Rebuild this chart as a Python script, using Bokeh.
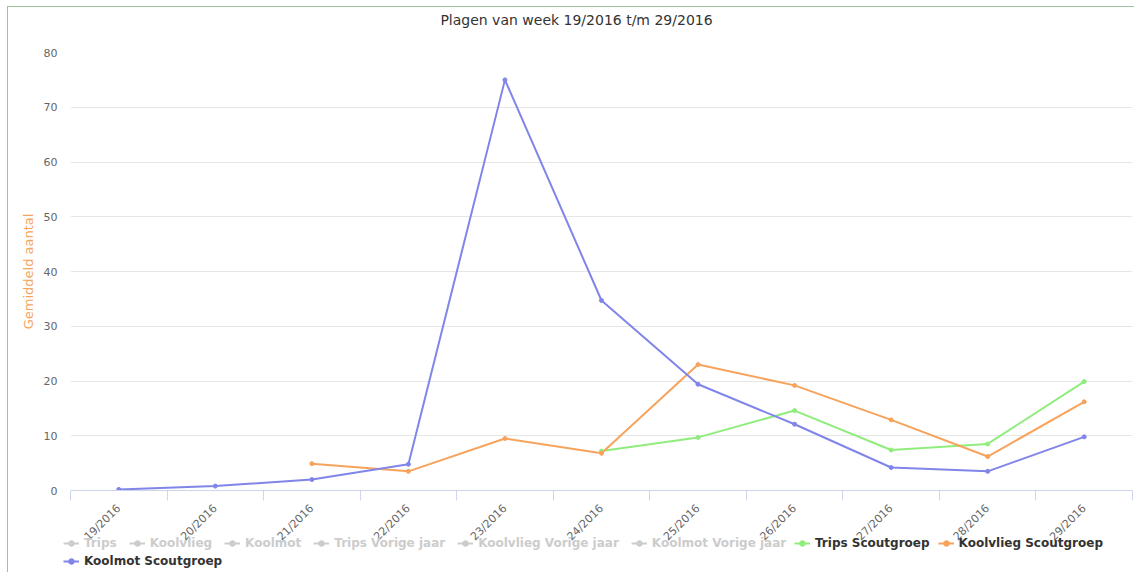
import numpy as np
from bokeh.plotting import figure
from bokeh.layouts import column
from bokeh.models import ColumnDataSource, Range1d, FixedTicker, Legend, LegendItem, Label
from bokeh.embed import file_html
from bokeh.resources import INLINE

# ---------------- data ----------------
weeks = ["19/2016", "20/2016", "21/2016", "22/2016", "23/2016", "24/2016",
         "25/2016", "26/2016", "27/2016", "28/2016", "29/2016"]
trips_scout = [None, None, None, None, None, 7.2, 9.7, 14.6, 7.4, 8.5, 19.9]
koolvlieg_scout = [None, None, 4.9, 3.5, 9.5, 6.8, 23.0, 19.2, 12.9, 6.2, 16.2]
koolmot_scout = [0.2, 0.8, 2.0, 4.8, 75.0, 34.7, 19.4, 12.1, 4.2, 3.5, 9.8]
hidden_names = ["Trips", "Koolvlieg", "Koolmot", "Trips Vorige jaar",
                "Koolvlieg Vorige jaar", "Koolmot Vorige jaar"]
y_ticks = [0, 10, 20, 30, 40, 50, 60, 70, 80]

title_text = "Plagen van week 19/2016 t/m 29/2016"
y_title = "Gemiddeld aantal"

FONT = "DejaVu Sans"
W = 1126


def strip_figure(height):
    f = figure(width=W, height=height, output_backend="svg", toolbar_location=None,
               x_range=Range1d(0, 1), y_range=Range1d(0, 1),
               x_axis_location=None, y_axis_location=None, min_border=0)
    f.outline_line_color = None
    f.xgrid.grid_line_color = None
    f.ygrid.grid_line_color = None
    f.background_fill_alpha = 0
    f.border_fill_alpha = 0
    return f


# ---------------- title strip ----------------
ft = strip_figure(38)
ft.add_layout(Label(x=0.5, y=0.658, x_offset=-25, text=title_text,
                    text_align="center", text_baseline="middle",
                    text_font=FONT, text_font_size="14px", text_color="#333333"))

# ---------------- main chart ----------------
n = len(weeks)
centers = [i + 0.5 for i in range(n)]
bounds = [float(i) for i in range(n + 1)]

p = figure(width=W, height=505, output_backend="svg", toolbar_location=None,
           x_range=Range1d(0, n), y_range=Range1d(0, 80),
           min_border_left=62, min_border_right=2, min_border_top=7, min_border_bottom=60)
p.outline_line_color = None
p.background_fill_color = "white"
p.border_fill_alpha = 0

xa = p.xaxis[0]
xa.ticker = FixedTicker(ticks=centers, minor_ticks=bounds)
xa.major_label_overrides = {c: w for c, w in zip(centers, weeks)}
xa.major_label_orientation = 0.78
xa.major_label_text_font = FONT
xa.major_label_text_font_size = "11px"
xa.major_label_text_color = "#666666"
xa.major_tick_line_color = None
xa.major_tick_out = 0
xa.major_tick_in = 0
xa.major_label_standoff = 6
xa.minor_tick_line_color = "#ccd6eb"
xa.minor_tick_out = 10
xa.minor_tick_in = 0
xa.axis_line_color = "#ccd6eb"

ya = p.yaxis[0]
ya.ticker = FixedTicker(ticks=y_ticks)
ya.axis_line_color = None
ya.major_tick_line_color = None
ya.minor_tick_line_color = None
ya.major_tick_out = 0
ya.major_tick_in = 0
ya.major_label_standoff = 13
ya.major_label_text_font = FONT
ya.major_label_text_font_size = "11px"
ya.major_label_text_color = "#666666"
ya.axis_label = y_title
ya.axis_label_text_font = FONT
ya.axis_label_text_font_size = "13px"
ya.axis_label_text_font_style = "normal"
ya.axis_label_text_color = "#f7a35c"
ya.axis_label_standoff = 5

p.xgrid.grid_line_color = None
p.ygrid.grid_line_color = "#e6e6e6"
p.ygrid.ticker = FixedTicker(ticks=y_ticks)


def arr(vals):
    return np.array([np.nan if v is None else v for v in vals], dtype=float)


series = [("Trips Scoutgroep", trips_scout, "#90ed7d"),
          ("Koolvlieg Scoutgroep", koolvlieg_scout, "#f7a35c"),
          ("Koolmot Scoutgroep", koolmot_scout, "#8085e9")]
for name, vals, col in series:
    src = ColumnDataSource(data=dict(x=centers, y=arr(vals)))
    p.line("x", "y", source=src, line_color=col, line_width=2)
    p.scatter("x", "y", source=src, size=4, color=col, marker="circle")

# ---------------- legend strip ----------------
lg = strip_figure(35)
lg.styles = {"margin-left": "-7px", "margin-top": "-13px"}


def legend_item(fig, name, col):
    # legend-only renderer (no visible data)
    src = ColumnDataSource(data=dict(x=[np.nan], y=[np.nan]))
    lr = fig.line("x", "y", source=src, line_color=col, line_width=2)
    sr = fig.scatter("x", "y", source=src, size=4, color=col, marker="circle")
    return LegendItem(label=name, renderers=[lr, sr])


hidden_items = [legend_item(lg, nm, "#cccccc") for nm in hidden_names]
vis_items = [legend_item(lg, nm, col) for nm, _, col in series]


def make_legend(items, loc, txt_color, spacing):
    return Legend(items=items, location=loc, orientation="horizontal",
                  label_text_font=FONT, label_text_font_size="12px",
                  label_text_font_style="bold", label_text_color=txt_color,
                  glyph_width=16, glyph_height=14, label_height=14, label_standoff=5,
                  spacing=spacing, padding=0, margin=0, border_line_color=None,
                  background_fill_alpha=0)


lg.add_layout(make_legend(hidden_items, (0, 22), "#cccccc", 12))
lg.add_layout(make_legend(vis_items[:2], (731, 22), "#333333", 8))
lg.add_layout(make_legend(vis_items[2:], (0, 4), "#333333", 8))

layout = column(ft, p, lg, spacing=0)
layout.styles = {"margin": "6px 0 0 7px", "border-top": "1px solid #9cc49c",
                 "border-left": "1px solid #9cc49c"}

open("out.html", "w").write(file_html(layout, INLINE))
